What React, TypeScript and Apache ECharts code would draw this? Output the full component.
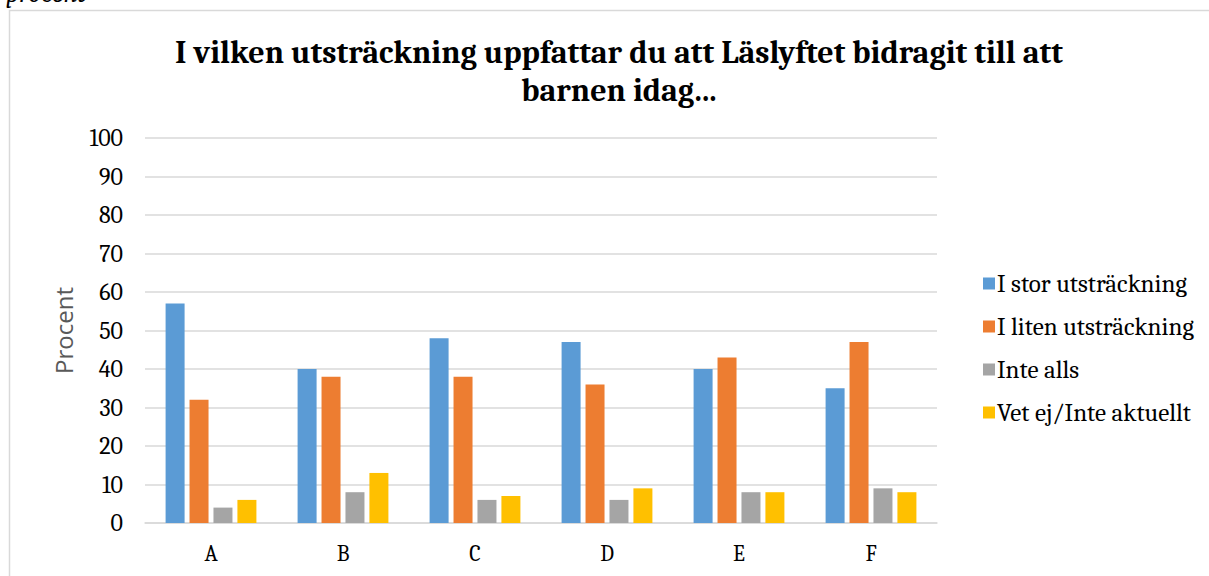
import React, { useEffect, useRef } from "react";
import * as echarts from "echarts";

const categories = ["A", "B", "C", "D", "E", "F"];
const seriesNames = ["I stor utsträckning", "I liten utsträckning", "Inte alls", "Vet ej/Inte aktuellt"];
const storValues = [57, 40, 48, 47, 40, 35];
const litenValues = [32, 38, 38, 36, 43, 47];
const inteAllsValues = [4, 8, 6, 6, 8, 9];
const vetEjValues = [6, 13, 7, 9, 8, 8];
const colors = ["#5B9BD5", "#ED7D31", "#A5A5A5", "#FFC000"];

const SERIF = "Cambria, 'Liberation Serif', 'DejaVu Serif', serif";

export default function App() {
  const ref = useRef<HTMLDivElement>(null);
  useEffect(() => {
    const chart = echarts.init(ref.current!, null, { renderer: "svg" });
    const data = [storValues, litenValues, inteAllsValues, vetEjValues];
    chart.setOption({
      animation: false,
      backgroundColor: "#ffffff",
      title: {
        text: "I vilken utsträckning uppfattar du att Läslyftet bidragit till att\nbarnen idag...",
        left: 614,
        textAlign: "center",
        top: 28,
        textStyle: {
          fontFamily: SERIF,
          fontWeight: "bold",
          fontSize: 32,
          lineHeight: 38,
          color: "#000000",
        },
      },
      graphic: [
        {
          type: "rect",
          shape: { x: 9.5, y: 10.5, width: 1400, height: 700 },
          style: { fill: "none", stroke: "#d9d9d9", lineWidth: 1.5 },
          silent: true,
        },
        {
          type: "text",
          x: 6,
          y: -19,
          style: {
            text: "procent",
            font: "italic 26px " + SERIF,
            fill: "#000000",
          },
        },
      ],
      legend: {
        orient: "vertical",
        left: 978,
        top: 266,
        itemWidth: 12,
        itemHeight: 12,
        itemGap: 18,
        icon: "rect",
        textStyle: { fontFamily: SERIF, fontSize: 25, color: "#000000", padding: [0, 0, 0, -3] },
        data: seriesNames,
      },
      grid: { left: 145, right: 272, top: 138, bottom: 53, containLabel: false },
      xAxis: {
        type: "category",
        data: categories,
        axisLine: { lineStyle: { color: "#d9d9d9", width: 1.5 } },
        axisTick: { show: false },
        axisLabel: { fontFamily: SERIF, fontSize: 22, color: "#000000", margin: 20 },
      },
      yAxis: {
        type: "value",
        min: 0,
        max: 100,
        interval: 10,
        name: "Procent",
        nameLocation: "middle",
        nameGap: 70,
        nameRotate: 90,
        nameTextStyle: { fontFamily: "'Open Sans', 'Noto Sans', sans-serif", fontSize: 24, color: "#595959" },
        axisLine: { show: false },
        axisTick: { show: false },
        axisLabel: { fontFamily: SERIF, fontSize: 24, color: "#000000", margin: 22 },
        splitLine: { lineStyle: { color: "#d9d9d9", width: 1.5 } },
      },
      series: seriesNames.map((name, i) => ({
        name,
        type: "bar",
        data: data[i],
        barWidth: 19,
        barGap: "26%",
        itemStyle: { color: colors[i] },
      })),
    });
    return () => chart.dispose();
  }, []);
  return (
    <div
      ref={ref}
      style={{ position: "absolute", left: 0, top: 0, width: 1209, height: 576 }}
    />
  );
}
